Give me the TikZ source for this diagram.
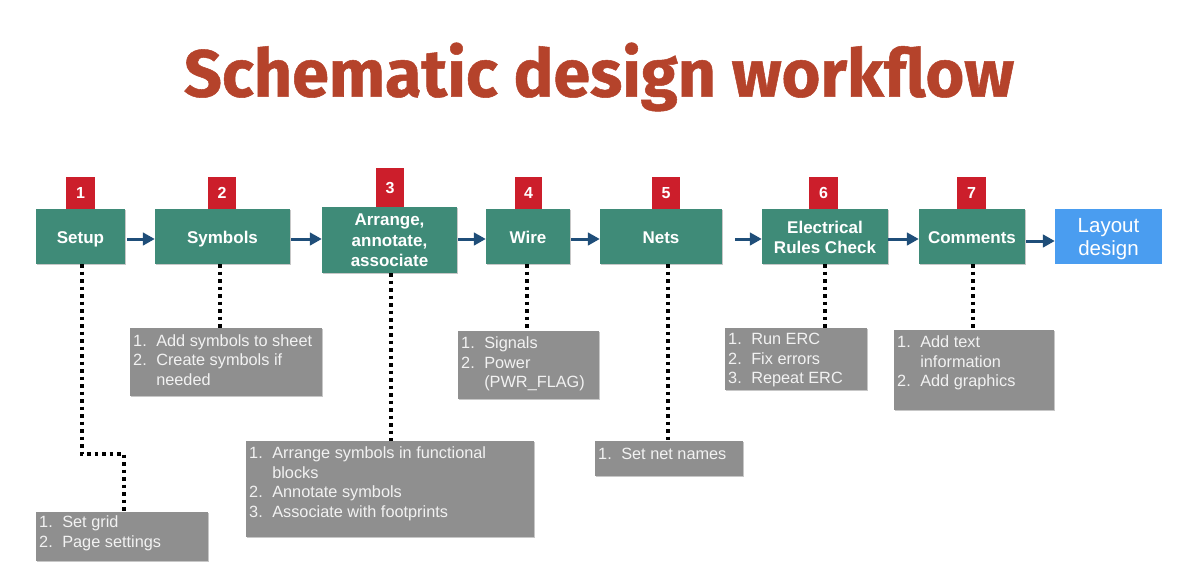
\documentclass[tikz,border=0pt]{standalone}
\usepackage{fontspec}
\setmainfont{Liberation Sans}
\newfontfamily\titlefont[BoldFeatures={FakeBold=0.8}]{Fira Sans}
\usetikzlibrary{arrows.meta,shadows,calc}
\definecolor{stepgreen}{HTML}{3F8B78}
\definecolor{layoutblue}{HTML}{4A9DF0}
\definecolor{badgered}{HTML}{CC1E2B}
\definecolor{notegray}{HTML}{8F8F8F}
\definecolor{arrownavy}{HTML}{1F4E79}
\definecolor{titlered}{HTML}{B5432B}
\definecolor{notetext}{HTML}{F2F2F2}
\newcommand{\glist}[4]{\parbox[c][#2pt][t]{#1pt}{\vspace{#4pt}\hspace*{3pt}\begin{tabular}{@{}l@{\hspace{9.5pt}}l@{}}#3\end{tabular}}}
\newcommand{\placed}[2]{\raisebox{#1pt}[0pt][0pt]{\begin{tabular}[t]{@{}c@{}}#2\end{tabular}}}
\newcommand{\single}[1]{\raisebox{-6.5pt}[0pt][0pt]{#1}}
\tikzset{
  softshadow/.style={drop shadow={shadow xshift=1.2pt,shadow yshift=-1.2pt,opacity=.22,fill=black}},
  stepbox/.style={rectangle,fill=stepgreen,text=white,font=\fontsize{17}{20.5}\selectfont\bfseries,align=center,inner sep=0pt,softshadow},
  layoutbox/.style={rectangle,fill=layoutblue,text=white,font=\fontsize{20.5}{23.5}\selectfont,align=center,inner sep=0pt},
  badge/.style={rectangle,fill=badgered,text=white,font=\fontsize{16}{18}\selectfont\bfseries,inner sep=0pt},
  notebox/.style={rectangle,fill=notegray,text=notetext,font=\fontsize{16.3}{19.5}\selectfont,inner sep=0pt,anchor=north west,softshadow},
  flow/.style={draw=arrownavy,line width=3pt,-{Triangle[length=12pt,width=12.5pt]}},
  dots/.style={draw=black,line width=3.5pt,dash pattern=on 3.5pt off 4pt},
}
\newcommand{\stepnode}[6]{\node[#1,minimum width=#4pt,minimum height=#5pt] (#2) at (#3) {#6};}
\begin{document}
\begin{tikzpicture}[x=1pt,y=-1pt]
\useasboundingbox (0,0) rectangle (1200,568);
\node[text=titlered,font=\titlefont\fontsize{66.5}{72}\selectfont\bfseries,inner sep=0pt] (title) at (599,77) {Schematic design workflow};

\stepnode{badge}{b1}{80.5,193}{29}{32}{1}
\stepnode{badge}{b2}{222,193}{28}{32}{2}
\stepnode{badge}{b3}{390,187.5}{28}{39}{3}
\stepnode{badge}{b4}{528.5,193}{27}{32}{4}
\stepnode{badge}{b5}{666,193}{28}{32}{5}
\stepnode{badge}{b6}{823.5,193}{29}{32}{6}
\stepnode{badge}{b7}{971.5,193}{29}{32}{7}

\stepnode{stepbox}{setup}{80.5,236.5}{89}{55}{\single{Setup}}
\stepnode{stepbox}{symbols}{222.5,236.5}{135}{55}{\single{Symbols}}
\stepnode{stepbox}{arrange}{389.5,240}{135}{66}{\placed{14.3}{Arrange,\\annotate,\\associate}}
\stepnode{stepbox}{wire}{528,236.5}{84}{55}{\single{Wire}}
\stepnode{stepbox}{nets}{661,236.5}{122}{55}{\single{Nets}}
\stepnode{stepbox}{erc}{825,236.5}{126}{55}{\placed{3.2}{Electrical\\Rules Check}}
\stepnode{stepbox}{comments}{972,236.5}{106}{55}{\single{Comments}}
\stepnode{layoutbox}{layout}{1108.5,236.5}{107}{55}{\placed{4.2}{Layout\\design}}

\node[notebox] (n1) at (36,512) {\glist{172}{49}{1.&Set grid\\2.&Page settings}{2}};
\node[notebox] (n2) at (130,328) {\glist{192}{68}{1.&Add symbols to sheet\\2.&Create symbols if\\&needed}{4.5}};
\node[notebox] (n3) at (246,441) {\glist{288}{96}{1.&Arrange symbols in functional\\&blocks\\2.&Annotate symbols\\3.&Associate with footprints}{4}};
\node[notebox] (n4) at (458,331) {\glist{141}{68}{1.&Signals\\2.&Power\\&(PWR\_FLAG)}{4}};
\node[notebox] (n5) at (595,441) {\glist{148}{35}{1.&Set net names}{4.5}};
\node[notebox] (n6) at (725,328) {\glist{142}{62}{1.&Run ERC\\2.&Fix errors\\3.&Repeat ERC}{3}};
\node[notebox] (n7) at (894,330) {\glist{160}{80}{1.&Add text\\&information\\2.&Add graphics}{4}};

\draw[flow] ([yshift=-2.5pt]setup.east) ++(2,0) -- ([yshift=-2.5pt]symbols.west);
\draw[flow] ([yshift=-2.5pt]symbols.east) ++(1,0) -- ([yshift=1pt]arrange.west);
\draw[flow] ([yshift=1pt]arrange.east) ++(1,0) -- ([yshift=-2.5pt]wire.west);
\draw[flow] ([yshift=-2.5pt]wire.east) ++(1,0) -- ([yshift=-2.5pt]nets.west);
\draw[flow] ([yshift=-2.5pt]nets.east) ++(13,0) -- ([yshift=-2.5pt]erc.west);
\draw[flow] ([yshift=-2.5pt]erc.east) -- ([yshift=-2.5pt]comments.west);
\draw[flow] ([yshift=-4.5pt]comments.east) ++(1,0) -- ([yshift=-4.5pt]layout.west);

\coordinate (k1) at (82,454);
\coordinate (k2) at (124,454);
\draw[dots] (setup.south -| k1) -- (k1) -- (k2) -- (n1.north -| k2);
\draw[dots] ([xshift=-2.5pt]symbols.south) -- ([xshift=-2.5pt]symbols.south |- n2.north);
\draw[dots] ([xshift=1.5pt]arrange.south) -- ([xshift=1.5pt]arrange.south |- n3.north);
\draw[dots] ([xshift=-1pt]wire.south) -- ([xshift=-1pt]wire.south |- n4.north);
\draw[dots] ([xshift=7pt]nets.south) -- ([xshift=7pt]nets.south |- n5.north);
\draw[dots] (erc.south) -- (erc.south |- n6.north);
\draw[dots] ([xshift=1pt]comments.south) -- ([xshift=1pt]comments.south |- n7.north);
\end{tikzpicture}
\end{document}
